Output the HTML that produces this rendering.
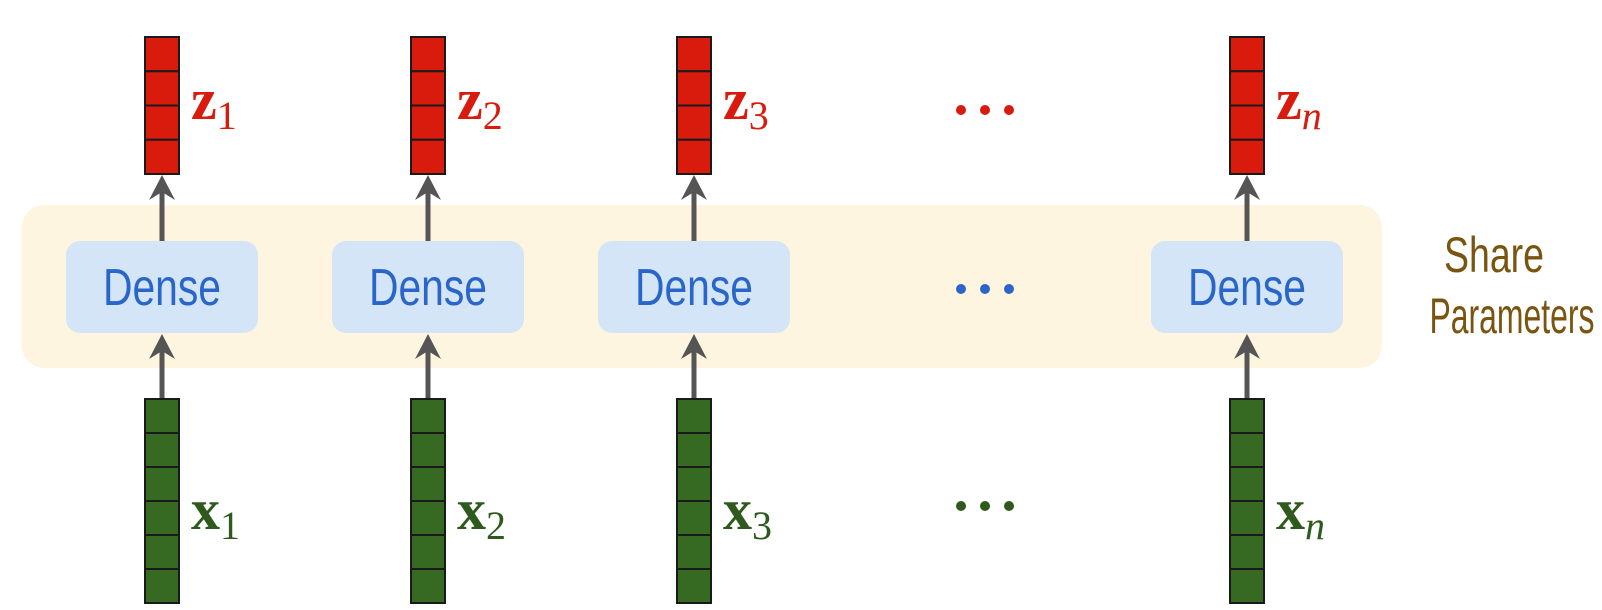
<!DOCTYPE html>
<html><head><meta charset="utf-8"><style>
html,body{margin:0;padding:0;background:#fff;}
svg{display:block;}
.dense{font-family:"Liberation Sans",sans-serif;font-size:52px;fill:#2a66c9;}
.lz{font-family:"Liberation Serif",serif;font-weight:bold;font-size:58px;fill:#d81b0c;}
.lx{font-family:"Liberation Serif",serif;font-weight:bold;font-size:58px;fill:#2e5a1e;}
.sub{font-family:"Liberation Serif",serif;font-weight:normal;font-size:40px;}
.sp{font-family:"Liberation Sans",sans-serif;font-size:50px;fill:#7a5510;}
</style></head><body>
<svg width="1602" height="610" viewBox="0 0 1602 610" xmlns="http://www.w3.org/2000/svg">
<rect x="22" y="205" width="1360" height="163" rx="22" fill="#fdf5df"/>
<g transform="translate(162,0)">
<rect x="-96" y="241" width="192" height="92" rx="14" fill="#d4e5f7"/>
<text class="dense" x="0" y="305" text-anchor="middle" textLength="118" lengthAdjust="spacingAndGlyphs">Dense</text>
<line x1="0" y1="241" x2="0" y2="190" stroke="#555" stroke-width="5"/>
<polygon points="0,175 -13,200 0,192 13,200" fill="#555"/>
<line x1="0" y1="399" x2="0" y2="350" stroke="#555" stroke-width="5"/>
<polygon points="0,334 -13,359 0,351 13,359" fill="#555"/>
<g fill="#d81b0c" stroke="#1a1a1a" stroke-width="2">
<rect x="-17" y="37" width="34" height="34.25"/><rect x="-17" y="71.25" width="34" height="34.25"/><rect x="-17" y="105.5" width="34" height="34.25"/><rect x="-17" y="139.75" width="34" height="34.25"/></g>
<g fill="#366a22" stroke="#1a1a1a" stroke-width="2">
<rect x="-17" y="399" width="34" height="34"/><rect x="-17" y="433" width="34" height="34"/><rect x="-17" y="467" width="34" height="34"/><rect x="-17" y="501" width="34" height="34"/><rect x="-17" y="535" width="34" height="34"/><rect x="-17" y="569" width="34" height="34"/></g>
<text class="lz" x="29" y="119">z<tspan class="sub" dy="10">1</tspan></text>
<text class="lx" x="29" y="529">x<tspan class="sub" dy="10">1</tspan></text>
</g>
<g transform="translate(428,0)">
<rect x="-96" y="241" width="192" height="92" rx="14" fill="#d4e5f7"/>
<text class="dense" x="0" y="305" text-anchor="middle" textLength="118" lengthAdjust="spacingAndGlyphs">Dense</text>
<line x1="0" y1="241" x2="0" y2="190" stroke="#555" stroke-width="5"/>
<polygon points="0,175 -13,200 0,192 13,200" fill="#555"/>
<line x1="0" y1="399" x2="0" y2="350" stroke="#555" stroke-width="5"/>
<polygon points="0,334 -13,359 0,351 13,359" fill="#555"/>
<g fill="#d81b0c" stroke="#1a1a1a" stroke-width="2">
<rect x="-17" y="37" width="34" height="34.25"/><rect x="-17" y="71.25" width="34" height="34.25"/><rect x="-17" y="105.5" width="34" height="34.25"/><rect x="-17" y="139.75" width="34" height="34.25"/></g>
<g fill="#366a22" stroke="#1a1a1a" stroke-width="2">
<rect x="-17" y="399" width="34" height="34"/><rect x="-17" y="433" width="34" height="34"/><rect x="-17" y="467" width="34" height="34"/><rect x="-17" y="501" width="34" height="34"/><rect x="-17" y="535" width="34" height="34"/><rect x="-17" y="569" width="34" height="34"/></g>
<text class="lz" x="29" y="119">z<tspan class="sub" dy="10">2</tspan></text>
<text class="lx" x="29" y="529">x<tspan class="sub" dy="10">2</tspan></text>
</g>
<g transform="translate(694,0)">
<rect x="-96" y="241" width="192" height="92" rx="14" fill="#d4e5f7"/>
<text class="dense" x="0" y="305" text-anchor="middle" textLength="118" lengthAdjust="spacingAndGlyphs">Dense</text>
<line x1="0" y1="241" x2="0" y2="190" stroke="#555" stroke-width="5"/>
<polygon points="0,175 -13,200 0,192 13,200" fill="#555"/>
<line x1="0" y1="399" x2="0" y2="350" stroke="#555" stroke-width="5"/>
<polygon points="0,334 -13,359 0,351 13,359" fill="#555"/>
<g fill="#d81b0c" stroke="#1a1a1a" stroke-width="2">
<rect x="-17" y="37" width="34" height="34.25"/><rect x="-17" y="71.25" width="34" height="34.25"/><rect x="-17" y="105.5" width="34" height="34.25"/><rect x="-17" y="139.75" width="34" height="34.25"/></g>
<g fill="#366a22" stroke="#1a1a1a" stroke-width="2">
<rect x="-17" y="399" width="34" height="34"/><rect x="-17" y="433" width="34" height="34"/><rect x="-17" y="467" width="34" height="34"/><rect x="-17" y="501" width="34" height="34"/><rect x="-17" y="535" width="34" height="34"/><rect x="-17" y="569" width="34" height="34"/></g>
<text class="lz" x="29" y="119">z<tspan class="sub" dy="10">3</tspan></text>
<text class="lx" x="29" y="529">x<tspan class="sub" dy="10">3</tspan></text>
</g>
<g transform="translate(1247,0)">
<rect x="-96" y="241" width="192" height="92" rx="14" fill="#d4e5f7"/>
<text class="dense" x="0" y="305" text-anchor="middle" textLength="118" lengthAdjust="spacingAndGlyphs">Dense</text>
<line x1="0" y1="241" x2="0" y2="190" stroke="#555" stroke-width="5"/>
<polygon points="0,175 -13,200 0,192 13,200" fill="#555"/>
<line x1="0" y1="399" x2="0" y2="350" stroke="#555" stroke-width="5"/>
<polygon points="0,334 -13,359 0,351 13,359" fill="#555"/>
<g fill="#d81b0c" stroke="#1a1a1a" stroke-width="2">
<rect x="-17" y="37" width="34" height="34.25"/><rect x="-17" y="71.25" width="34" height="34.25"/><rect x="-17" y="105.5" width="34" height="34.25"/><rect x="-17" y="139.75" width="34" height="34.25"/></g>
<g fill="#366a22" stroke="#1a1a1a" stroke-width="2">
<rect x="-17" y="399" width="34" height="34"/><rect x="-17" y="433" width="34" height="34"/><rect x="-17" y="467" width="34" height="34"/><rect x="-17" y="501" width="34" height="34"/><rect x="-17" y="535" width="34" height="34"/><rect x="-17" y="569" width="34" height="34"/></g>
<text class="lz" x="29" y="119">z<tspan class="sub" dy="10" font-style="italic">n</tspan></text>
<text class="lx" x="29" y="529">x<tspan class="sub" dy="10" font-style="italic">n</tspan></text>
</g>
<g fill="#d81b0c"><circle cx="961" cy="110" r="5"/><circle cx="985" cy="110" r="5"/><circle cx="1009" cy="110" r="5"/></g>
<g fill="#2a66c9"><circle cx="961" cy="289" r="5"/><circle cx="985" cy="289" r="5"/><circle cx="1009" cy="289" r="5"/></g>
<g fill="#2e5a1e"><circle cx="961" cy="506" r="5"/><circle cx="985" cy="506" r="5"/><circle cx="1009" cy="506" r="5"/></g>
<text class="sp" x="1494" y="272" text-anchor="middle" textLength="100" lengthAdjust="spacingAndGlyphs">Share</text>
<text class="sp" x="1512" y="333" text-anchor="middle" textLength="165" lengthAdjust="spacingAndGlyphs">Parameters</text>
</svg>
</body></html>
